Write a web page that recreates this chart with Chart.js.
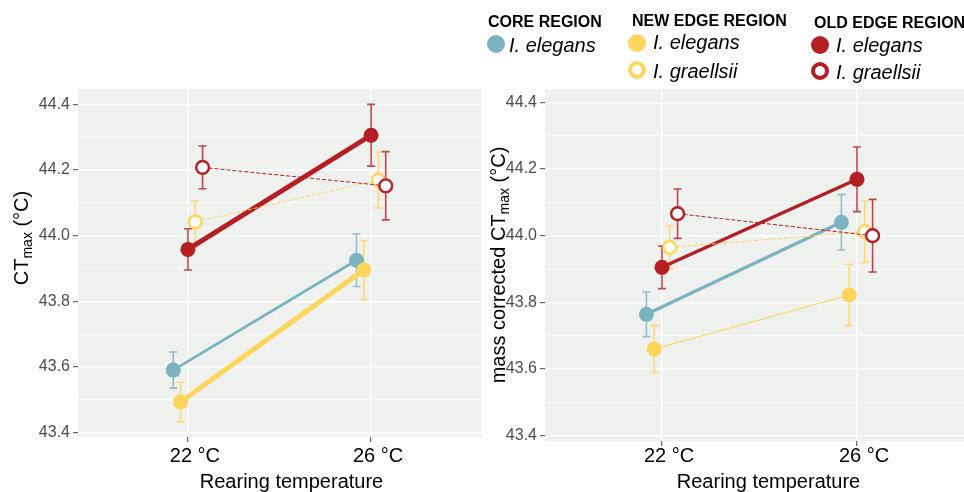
<!DOCTYPE html>
<html>
<head>
<meta charset="utf-8">
<title>CTmax by rearing temperature</title>
<script src="https://cdn.jsdelivr.net/npm/chart.js@4.4.1/dist/chart.umd.min.js"></script>
<style>
  html, body { margin: 0; padding: 0; background: #fff; }
  body { position: relative; width: 964px; height: 492px; overflow: hidden;
         font-family: "Liberation Sans", Arial, Helvetica, sans-serif; color: #000; }
  canvas { position: absolute; top: 0; }
  #chartRaw { left: 0; }
  #chartMass { left: 482px; }
  .key { position: absolute; white-space: nowrap; line-height: 1; }
  .head { font-weight: bold; font-size: 16px; }
  .sp { font-style: italic; font-size: 20px; }
  .dot { position: absolute; width: 18px; height: 18px; border-radius: 50%; box-sizing: border-box; }
  .open { background: #fff; border: 4px solid; }
</style>
</head>
<body>
<canvas id="chartRaw" width="482" height="492"></canvas>
<canvas id="chartMass" width="492" height="492"></canvas>

<div class="key head" style="left:488px;top:14px">CORE REGION</div>
<div class="dot" style="left:487px;top:35px;background:#7BB3C0"></div>
<div class="key sp" style="left:509px;top:35px">I. elegans</div>

<div class="key head" style="left:632px;top:13px">NEW EDGE REGION</div>
<div class="dot" style="left:628px;top:34px;background:#FDD55B"></div>
<div class="key sp" style="left:653px;top:32px">I. elegans</div>
<div class="dot open" style="left:628px;top:61px;border-color:#FDD55B"></div>
<div class="key sp" style="left:653px;top:61px">I. graellsii</div>

<div class="key head" style="left:814px;top:15px">OLD EDGE REGION</div>
<div class="dot" style="left:811px;top:36px;background:#B41E24"></div>
<div class="key sp" style="left:836px;top:35px">I. elegans</div>
<div class="dot open" style="left:811px;top:62px;border-color:#B41E24"></div>
<div class="key sp" style="left:836px;top:62px">I. graellsii</div>

<script>
const xLabels = ['22 °C', '26 °C'];
const yTicks = [43.4, 43.6, 43.8, 44.0, 44.2, 44.4];
const yMinorTicks = [43.5, 43.7, 43.9, 44.1, 44.3];

// left panel: CTmax, mean and error half-width at 22 and 26 °C
const coreElegansRaw = [43.59, 43.925];
const coreElegansRawErr = [0.055, 0.08];
const newElegansRaw = [43.493, 43.895];
const newElegansRawErr = [0.06, 0.09];
const oldElegansRaw = [43.958, 44.306];
const oldElegansRawErr = [0.063, 0.094];
const newGraellsiiRaw = [44.042, 44.169];
const newGraellsiiRawErr = [0.063, 0.085];
const oldGraellsiiRaw = [44.208, 44.152];
const oldGraellsiiRawErr = [0.065, 0.104];

// right panel: mass corrected CTmax
const coreElegansMass = [43.764, 44.04];
const coreElegansMassErr = [0.067, 0.083];
const newElegansMass = [43.66, 43.822];
const newElegansMassErr = [0.07, 0.092];
const oldElegansMass = [43.905, 44.169];
const oldElegansMassErr = [0.064, 0.097];
const newGraellsiiMass = [43.965, 44.012];
const newGraellsiiMassErr = [0.065, 0.092];
const oldGraellsiiMass = [44.066, 44.0];
const oldGraellsiiMassErr = [0.074, 0.109];

const TEAL = '#7BB3C0';
const YELLOW = '#FDD55B';
const RED = '#B41E24';
const PANEL = '#EFF1EF';
const FONT = '"Liberation Sans", Arial, Helvetica, sans-serif';
const DODGE = 0.2;

Chart.defaults.font.family = FONT;

function rgba(hex, a) {
  const n = parseInt(hex.slice(1), 16);
  return `rgba(${n >> 16},${(n >> 8) & 255},${n & 255},${a})`;
}

const isMajor = v => yTicks.some(t => Math.abs(t - v) < 1e-6);

// groups in dodge order; later groups are drawn on top
function makeDatasets(groups) {
  return groups.map((g, k) => ({
    label: g.label,
    data: g.values.map((v, i) => ({ x: i + 1 + (k - 2) * DODGE / 5, y: v })),
    errors: g.errors,
    errColor: rgba(g.color, 0.8),
    order: groups.length - 1 - k,
    borderColor: g.color,
    borderWidth: g.width,
    borderDash: g.dash || [],
    pointBackgroundColor: g.open ? '#fff' : g.color,
    pointBorderColor: g.color,
    pointBorderWidth: g.open ? 2.4 : 0,
    pointRadius: g.open ? 6.4 : 7.5,
    tension: 0
  }));
}

const panelBg = {
  id: 'panelBg',
  beforeDraw(chart) {
    const { ctx, chartArea: a } = chart;
    ctx.save();
    ctx.fillStyle = PANEL;
    ctx.fillRect(a.left, a.top, a.right - a.left, a.bottom - a.top);
    ctx.restore();
  }
};

const errorBars = {
  id: 'errorBars',
  beforeDatasetsDraw(chart) {
    const { ctx, scales: { x, y } } = chart;
    chart.data.datasets.forEach(ds => {
      ctx.save();
      ctx.strokeStyle = ds.errColor;
      ctx.lineWidth = 1.6;
      ds.data.forEach((p, i) => {
        const px = x.getPixelForValue(p.x);
        const top = y.getPixelForValue(p.y + ds.errors[i]);
        const bot = y.getPixelForValue(p.y - ds.errors[i]);
        ctx.beginPath();
        ctx.moveTo(px, top); ctx.lineTo(px, bot);
        ctx.moveTo(px - 4, top); ctx.lineTo(px + 4, top);
        ctx.moveTo(px - 4, bot); ctx.lineTo(px + 4, bot);
        ctx.stroke();
      });
      ctx.restore();
    });
  }
};

function axisTitles(cfg) {
  return {
    id: 'axisTitles',
    afterDraw(chart) {
      const { ctx, chartArea: a } = chart;
      ctx.save();
      ctx.fillStyle = '#000';
      ctx.textBaseline = 'alphabetic';
      ctx.font = '20px ' + FONT;
      ctx.textAlign = 'center';
      ctx.fillText('Rearing temperature', (a.left + a.right) / 2 + cfg.xTitleShift, 488);

      // y title with subscript, rotated
      const parts = [
        { text: cfg.yPrefix + 'CT', font: '20px ' + FONT, dy: 0 },
        { text: 'max', font: '14px ' + FONT, dy: 4 },
        { text: ' (°C)', font: '20px ' + FONT, dy: 0 }
      ];
      let total = 0;
      parts.forEach(p => { ctx.font = p.font; p.w = ctx.measureText(p.text).width; total += p.w; });
      ctx.translate(cfg.yTitleX, cfg.yTitleY);
      ctx.rotate(-Math.PI / 2);
      ctx.textAlign = 'left';
      let pos = -total / 2;
      parts.forEach(p => { ctx.font = p.font; ctx.fillText(p.text, pos, p.dy); pos += p.w; });
      ctx.restore();
    }
  };
}

function buildPanel(canvasId, groups, cfg) {
  return new Chart(document.getElementById(canvasId), {
    type: 'line',
    data: { datasets: makeDatasets(groups) },
    options: {
      responsive: false,
      animation: false,
      devicePixelRatio: 1,
      layout: { padding: { top: 89, right: cfg.padRight, left: 0, bottom: 0 }, autoPadding: false },
      plugins: { legend: { display: false }, tooltip: { enabled: false } },
      scales: {
        x: {
          type: 'linear',
          min: 0.4,
          max: 2.6,
          afterBuildTicks: s => { s.ticks = xLabels.map((l, i) => ({ value: i + 1 })); },
          afterFit: s => { s.height = cfg.xAxisHeight; },
          ticks: {
            callback: (v, i) => xLabels[i],
            font: { size: 20 },
            color: '#000',
            padding: cfg.xTickPad,
            labelOffset: 7,
            maxRotation: 0,
            autoSkip: false
          },
          grid: { color: '#fff', lineWidth: 1.4, tickColor: '#444', tickLength: 5, tickWidth: 1 },
          border: { display: false }
        },
        y: {
          min: cfg.yMin,
          max: cfg.yMax,
          afterBuildTicks: s => {
            s.ticks = yTicks.concat(yMinorTicks).sort((p, q) => p - q).map(v => ({ value: v }));
          },
          afterFit: s => { s.width = cfg.yAxisWidth; },
          ticks: {
            callback: v => isMajor(v) ? v.toFixed(1) : '',
            font: { size: 16 },
            color: '#4D4D4D',
            padding: 3,
            autoSkip: false
          },
          grid: {
            color: '#fff',
            lineWidth: c => (c.tick && isMajor(c.tick.value)) ? 1.4 : 0.6,
            tickColor: c => (c.tick && isMajor(c.tick.value)) ? '#444' : 'rgba(0,0,0,0)',
            tickLength: 5,
            tickWidth: 1
          },
          border: { display: false }
        }
      }
    },
    plugins: [panelBg, errorBars, axisTitles(cfg)]
  });
}

buildPanel('chartRaw', [
  { label: 'Core I. elegans', values: coreElegansRaw, errors: coreElegansRawErr, color: TEAL, width: 2.8 },
  { label: 'New edge I. elegans', values: newElegansRaw, errors: newElegansRawErr, color: YELLOW, width: 5 },
  { label: 'Old edge I. elegans', values: oldElegansRaw, errors: oldElegansRawErr, color: RED, width: 5 },
  { label: 'New edge I. graellsii', values: newGraellsiiRaw, errors: newGraellsiiRawErr, color: YELLOW, width: 1, dash: [4, 2], open: true },
  { label: 'Old edge I. graellsii', values: oldGraellsiiRaw, errors: oldGraellsiiRawErr, color: RED, width: 1, dash: [4, 2], open: true }
], {
  yMin: 43.386, yMax: 44.447, yAxisWidth: 78, xAxisHeight: 55, padRight: 1, xTickPad: 2,
  xTitleShift: 12, yPrefix: '', yTitleX: 28, yTitleY: 238
});

buildPanel('chartMass', [
  { label: 'Core I. elegans', values: coreElegansMass, errors: coreElegansMassErr, color: TEAL, width: 3.4 },
  { label: 'New edge I. elegans', values: newElegansMass, errors: newElegansMassErr, color: YELLOW, width: 1.2 },
  { label: 'Old edge I. elegans', values: oldElegansMass, errors: oldElegansMassErr, color: RED, width: 3.3 },
  { label: 'New edge I. graellsii', values: newGraellsiiMass, errors: newGraellsiiMassErr, color: YELLOW, width: 1, dash: [4, 2], open: true },
  { label: 'Old edge I. graellsii', values: oldGraellsiiMass, errors: oldGraellsiiMassErr, color: RED, width: 1, dash: [4, 2], open: true }
], {
  yMin: 43.384, yMax: 44.44, yAxisWidth: 63, xAxisHeight: 51, padRight: 0, xTickPad: -2,
  xTitleShift: 9, yPrefix: 'mass corrected ', yTitleX: 23, yTitleY: 265
});
</script>
</body>
</html>
